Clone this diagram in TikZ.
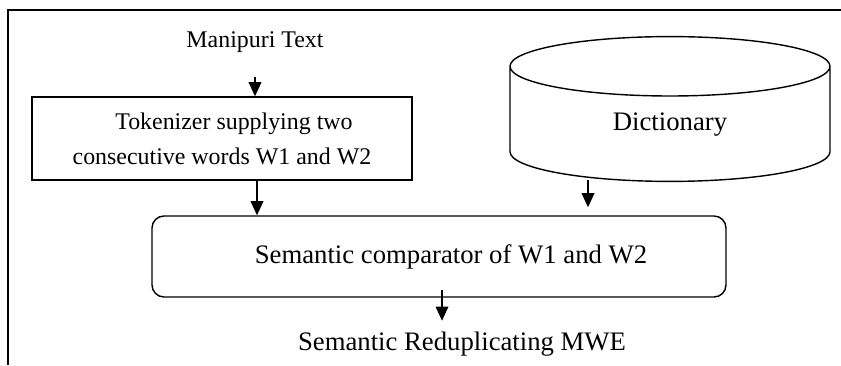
\documentclass[tikz,border=0pt]{standalone}
\usepackage{fontspec}
\setmainfont{Liberation Serif}
\usetikzlibrary{arrows.meta,shapes.geometric,calc}

\tikzset{
  flow/.style={-{Triangle[length=10pt,width=9pt]}, line width=0.9pt},
  procbox/.style={draw, line width=1pt, align=center, inner sep=0pt},
  small/.style={font=\fontsize{17}{25}\selectfont},
  big/.style={font=\fontsize{19}{23}\selectfont},
}

\begin{document}
\begin{tikzpicture}
            \useasboundingbox (0,0) rectangle (21.025,9.125);
            % frame
            \draw[line width=1.2pt] (0.2,0) -- (0.2,8.875) -- (21.025,8.875);
            % input and tokenizer
            \node[small] (src) at (6.375,8.075) {Manipuri Text};
            \node[procbox, small, minimum width=9.5cm, minimum height=2.075cm] (tok) at (5.55,5.6625)
                {\quad Tokenizer supplying two\\consecutive words W1 and W2};
            % dictionary
            \node[draw, line width=1pt, big, shape=cylinder, shape border rotate=90, aspect=0.52,
                  minimum width=8cm, minimum height=3.62cm, inner sep=0pt] (dict) at (16.75,6.02) {Dictionary};
            % comparator and output
            \node[procbox, big, rounded corners=0.3cm, minimum width=14.35cm, minimum height=2.025cm] (cmp) at (10.975,2.7125)
                {\hspace{0.6cm}Semantic comparator of W1 and W2};
            \node[big] (mwe) at (11.55,0.53) {Semantic Reduplicating MWE};
            % arrows
            \draw[flow] ($(src.south)+(0,-0.5)$) -- (src.south |- tok.north);
            \draw[flow] (tok.south -| 6.425,0) -- (6.425,0 |- cmp.north);
            \draw[flow] ($(dict.south -| 14.7,0)+(0,0.05)$) -- ($(cmp.north -| 14.7,0)+(0,0.2)$);
            \draw[flow] ($(cmp.south -| 11.05,0)+(0,0.2)$) -- ($(11.05,0 |- mwe.north)+(0,0.15)$);
\end{tikzpicture}
\end{document}
